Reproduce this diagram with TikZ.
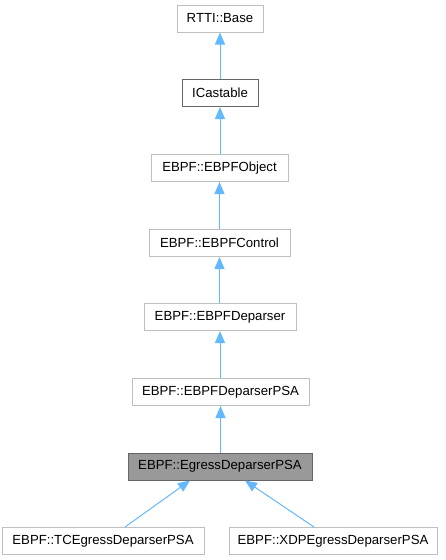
\documentclass[tikz,border=0pt]{standalone}
\usepackage{fontspec}
\setmainfont{Liberation Sans}
\usetikzlibrary{arrows.meta}
\definecolor{boxgray}{HTML}{BFBFBF}
\definecolor{darkborder}{HTML}{666666}
\definecolor{hlfill}{HTML}{999999}
\definecolor{arrowblue}{HTML}{63B8FF}
\begin{document}
\begin{tikzpicture}[x=1pt,y=-1pt,
  cls/.style={draw=boxgray,line width=1pt,fill=white,inner sep=0pt,minimum height=27pt,
    font=\fontsize{13.2}{15}\selectfont,text=black},
  clsdark/.style={cls,draw=darkborder},
  clshl/.style={cls,draw=darkborder,fill=hlfill},
  inh/.style={draw=arrowblue,line width=1pt,-{Triangle[length=12pt,width=10pt]}}]
\useasboundingbox (0,0) rectangle (445,560);
\node[cls,minimum width=86pt] (rtti) at (220,18.5) {RTTI::Base};
\node[clsdark,minimum width=76pt] (icast) at (220,93) {ICastable};
\node[cls,minimum width=137pt] (obj) at (219.5,168) {EBPF::EBPFObject};
\node[cls,minimum width=141pt] (ctrl) at (219.5,243) {EBPF::EBPFControl};
\node[cls,minimum width=152pt] (dep) at (220,317) {EBPF::EBPFDeparser};
\node[cls,minimum width=177pt] (deppsa) at (220.5,392) {EBPF::EBPFDeparserPSA};
\node[clshl,minimum width=184pt] (egr) at (220,466.5) {EBPF::EgressDeparserPSA};
\node[cls,minimum width=202pt] (tc) at (103,541) {EBPF::TCEgressDeparserPSA};
\node[cls,minimum width=208pt] (xdp) at (333,541) {EBPF::XDPEgressDeparserPSA};
\draw[inh] (icast.north -| rtti.south) -- (rtti.south);
\draw[inh] (obj.north -| icast.south) -- (icast.south);
\draw[inh] (ctrl.north -| obj.south) -- (obj.south);
\draw[inh] (dep.north -| ctrl.south) -- (ctrl.south);
\draw[inh] (deppsa.north -| dep.south) -- (dep.south);
\draw[inh] (egr.north -| deppsa.south) -- (deppsa.south);
\draw[inh] ([xshift=22pt]tc.north) -- ([xshift=-30pt]egr.south);
\draw[inh] ([xshift=-19pt]xdp.north) -- ([xshift=25pt]egr.south);
\end{tikzpicture}
\end{document}
